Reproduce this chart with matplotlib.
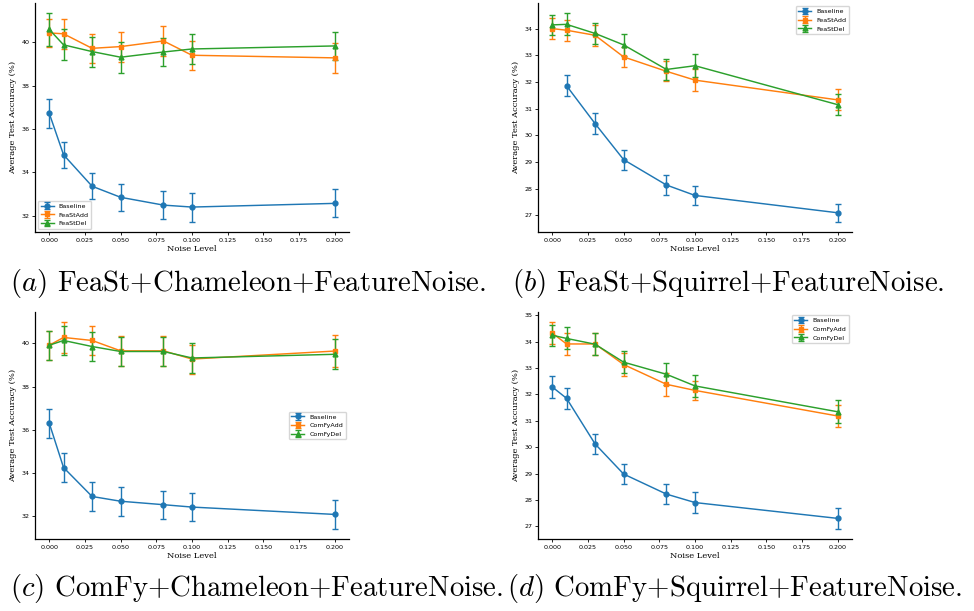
import numpy as np
import matplotlib
matplotlib.use("Agg")
import matplotlib.pyplot as plt

plt.rcParams["mathtext.fontset"] = "cm"

nan = np.nan

# noise levels shared by every panel
noise = [0.0, 0.01, 0.03, 0.05, 0.08, 0.1, 0.2]

# (a) FeaSt + Chameleon
a_base = [36.72, 34.81, 33.36, 32.85, 32.49, 32.40, 32.57]
a_base_err = [0.66, 0.60, 0.59, 0.62, 0.66, 0.67, 0.65]
a_add = [40.43, 40.39, 39.72, 39.80, 40.06, 39.40, 39.28]
a_add_err = [0.65, 0.69, 0.68, 0.69, 0.70, 0.66, 0.69]
a_del = [40.59, 39.88, 39.57, 39.31, 39.55, 39.69, 39.83]
a_del_err = [0.74, 0.72, 0.69, 0.72, 0.66, 0.70, 0.66]

# (b) FeaSt + Squirrel (no baseline point at 0)
b_base = [nan, 31.86, 30.44, 29.09, 28.14, 27.75, 27.10]
b_base_err = [nan, 0.39, 0.40, 0.37, 0.36, 0.34, 0.33]
b_add = [34.00, 33.94, 33.75, 32.94, 32.40, 32.07, 31.33]
b_add_err = [0.40, 0.39, 0.40, 0.39, 0.38, 0.40, 0.39]
b_del = [34.14, 34.16, 33.82, 33.39, 32.47, 32.61, 31.15]
b_del_err = [0.38, 0.41, 0.38, 0.41, 0.39, 0.44, 0.39]

# (c) ComFy + Chameleon
c_base = [36.31, 34.26, 32.92, 32.70, 32.54, 32.43, 32.09]
c_base_err = [0.67, 0.65, 0.67, 0.68, 0.65, 0.66, 0.66]
c_add = [39.92, 40.28, 40.14, 39.66, 39.66, 39.28, 39.65]
c_add_err = [0.68, 0.70, 0.66, 0.70, 0.70, 0.67, 0.73]
c_del = [39.92, 40.14, 39.86, 39.63, 39.63, 39.33, 39.50]
c_del_err = [0.68, 0.67, 0.68, 0.69, 0.69, 0.69, 0.70]

# (d) ComFy + Squirrel
d_base = [32.28, 31.85, 30.12, 28.98, 28.22, 27.90, 27.30]
d_base_err = [0.40, 0.39, 0.39, 0.39, 0.39, 0.39, 0.39]
d_add = [34.32, 33.91, 33.91, 33.13, 32.38, 32.15, 31.18]
d_add_err = [0.41, 0.41, 0.40, 0.42, 0.43, 0.37, 0.40]
d_del = [34.24, 34.12, 33.90, 33.22, 32.76, 32.32, 31.34]
d_del_err = [0.39, 0.42, 0.41, 0.41, 0.41, 0.41, 0.43]

feast_labels = ["Baseline", "FeaStAdd", "FeaStDel"]
comfy_labels = ["Baseline", "ComFyAdd", "ComFyDel"]

captions = [
    r"$(a)$ FeaSt+Chameleon+FeatureNoise.",
    r"$(b)$ FeaSt+Squirrel+FeatureNoise.",
    r"$(c)$ ComFy+Chameleon+FeatureNoise.",
    r"$(d)$ ComFy+Squirrel+FeatureNoise.",
]

panels = [
    ([a_base, a_add, a_del], [a_base_err, a_add_err, a_del_err], feast_labels, "lower left"),
    ([b_base, b_add, b_del], [b_base_err, b_add_err, b_del_err], feast_labels, "upper right"),
    ([c_base, c_add, c_del], [c_base_err, c_add_err, c_del_err], comfy_labels, "center right"),
    ([d_base, d_add, d_del], [d_base_err, d_add_err, d_del_err], comfy_labels, "upper right"),
]

colors = ["#1f77b4", "#ff7f0e", "#2ca02c"]
markers = ["o", "s", "^"]

W, H = 974, 611
fig = plt.figure(figsize=(W / 100, H / 100), dpi=100)

# axes boxes in pixels: left, top, right, bottom
boxes = [
    (35, 3, 349, 232),
    (538, 3, 852, 232),
    (35, 312, 349, 539),
    (538, 312, 852, 539),
]

for (means, errs, labels, loc), (l, t, r, b) in zip(panels, boxes):
    ax = fig.add_axes([l / W, 1 - b / H, (r - l) / W, (b - t) / H])
    for m, e, lab, col, mk in zip(means, errs, labels, colors, markers):
        ax.errorbar(noise, m, yerr=e, label=lab, color=col, marker=mk,
                    markersize=3.5, linewidth=1.05, elinewidth=1.0,
                    capsize=2.5, capthick=1.0)
    ax.spines["top"].set_visible(False)
    ax.spines["right"].set_visible(False)
    ax.spines["left"].set_linewidth(0.9)
    ax.spines["bottom"].set_linewidth(0.9)
    ax.tick_params(labelsize=4.6, length=2.5, width=0.6, pad=1.5)
    ax.set_xlabel("Noise Level", family="DejaVu Serif", fontsize=6, labelpad=1.5)
    ax.set_ylabel("Average Test Accuracy (%)", family="DejaVu Serif", fontsize=6, labelpad=3)
    ax.legend(loc=loc, fontsize=4.6)

cap_pos = [(10, 283), (512, 283), (10, 588), (507, 588)]
for txt, (x, y) in zip(captions, cap_pos):
    fig.text(x / W, 1 - y / H, txt, family="cmr10", fontsize=20.7,
             ha="left", va="center")

fig.savefig("out.png", dpi=100)
